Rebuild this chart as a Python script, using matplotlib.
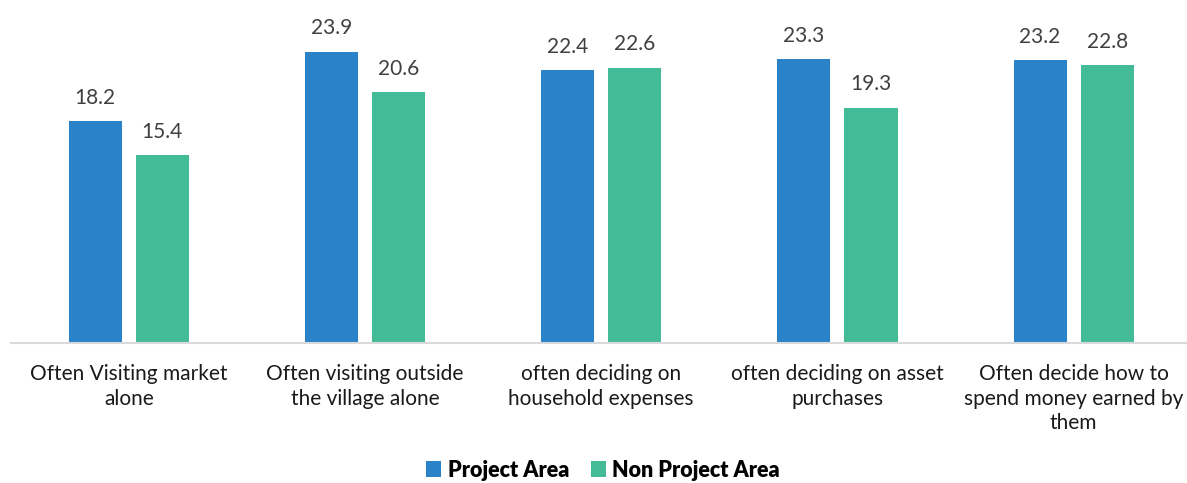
import numpy as np
import matplotlib.pyplot as plt

categories = ['Often Visiting market\nalone',
              'Often visiting outside\nthe village alone',
              'often deciding on\nhousehold expenses',
              'often deciding on asset\npurchases',
              'Often decide how to\nspend money earned by\nthem']
project = [18.2, 23.9, 22.4, 23.3, 23.2]
non_project = [15.4, 20.6, 22.6, 19.3, 22.8]

plt.rcParams['font.family'] = ['Lato', 'DejaVu Sans']

fig = plt.figure(figsize=(11.87, 4.83), dpi=100)
ax = fig.add_axes([0.009, 0.29, 0.995, 0.706])

x = np.arange(len(categories))
width = 0.225
offset = 0.142
blue = '#2A82C8'
green = '#43BB97'

b1 = ax.bar(x - offset, project, width, color=blue, label='Project Area')
b2 = ax.bar(x + offset, non_project, width, color=green, label='Non Project Area')

# Value labels above bars
for bars in (b1, b2):
    for bar in bars:
        h = bar.get_height()
        ax.text(bar.get_x() + bar.get_width() / 2, h + 1.1, f'{h:.1f}',
                ha='center', va='bottom', fontsize=15, color='#404040')

ax.set_xlim(-0.5, 4.5)
ax.set_ylim(0, 28)
ax.set_xticks(x)
ax.set_xticklabels(categories, fontsize=15, color='#1a1a1a', linespacing=1.3)
ax.tick_params(axis='x', length=0, pad=15)
ax.set_yticks([])

for side in ['top', 'right', 'left']:
    ax.spines[side].set_visible(False)
ax.spines['bottom'].set_color('#d9d9d9')
ax.spines['bottom'].set_linewidth(1.5)

leg = fig.legend(loc='lower center', bbox_to_anchor=(0.508, -0.035), ncol=2, frameon=False,
                 prop={'weight': 'heavy', 'size': 15.5}, handlelength=0.7, handleheight=0.7,
                 handletextpad=0.3, columnspacing=1.0)

fig.savefig('out.png', dpi=100)
